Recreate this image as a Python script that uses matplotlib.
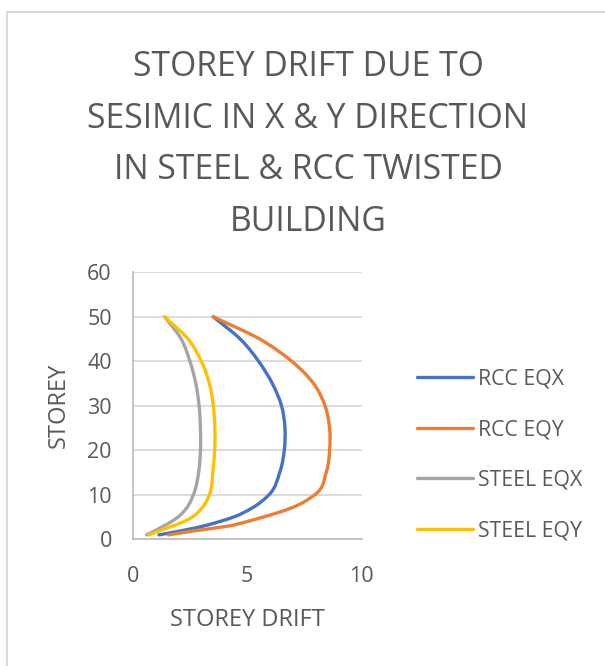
import numpy as np
import matplotlib.pyplot as plt
from matplotlib.path import Path
from matplotlib.patches import PathPatch, Rectangle
from matplotlib.lines import Line2D

plt.rcParams['font.family'] = ['Open Sans', 'DejaVu Sans']

# storey levels and drift readings for each case
storey = [1, 2, 3, 4, 5, 7, 10, 15, 20, 25, 30, 35, 40, 45, 50]
rcc_eqx = [1.15, 2.20, 3.10, 3.80, 4.40, 5.20, 5.95, 6.42, 6.62, 6.65, 6.50, 6.10, 5.50, 4.70, 3.52]
rcc_eqy = [1.56, 2.80, 4.20, 5.00, 5.70, 6.90, 7.95, 8.45, 8.60, 8.60, 8.40, 7.90, 6.95, 5.55, 3.52]
steel_eqx = [0.61, 1.00, 1.35, 1.70, 1.98, 2.35, 2.65, 2.88, 2.96, 2.96, 2.90, 2.76, 2.50, 2.12, 1.40]
steel_eqy = [0.72, 1.20, 1.75, 2.25, 2.60, 3.02, 3.35, 3.50, 3.58, 3.59, 3.52, 3.35, 3.00, 2.42, 1.40]

labels = ['RCC EQX', 'RCC EQY', 'STEEL EQX', 'STEEL EQY']
colors = ['#4472C4', '#ED7D31', '#A5A5A5', '#FFC000']
series = [rcc_eqx, rcc_eqy, steel_eqx, steel_eqy]

text_color = '#595959'


def smooth_path(xs, ys):
    # smoothed line through every reading: cubic bezier pieces, storey as parameter
    t = np.asarray(ys, float)
    pts = np.column_stack([xs, ys]).astype(float)
    n = len(pts)
    h = np.diff(t)
    slope = np.diff(pts, axis=0) / h[:, None]
    d = np.empty_like(pts)
    d[0] = slope[0]
    d[-1] = slope[-1]
    for i in range(1, n - 1):
        d[i] = (slope[i] * h[i - 1] + slope[i - 1] * h[i]) / (h[i - 1] + h[i])
    verts = [pts[0]]
    codes = [Path.MOVETO]
    for i in range(n - 1):
        verts += [pts[i] + d[i] * h[i] / 3, pts[i + 1] - d[i + 1] * h[i] / 3, pts[i + 1]]
        codes += [Path.CURVE4] * 3
    return Path(verts, codes)


fig = plt.figure(figsize=(6.05, 6.66), dpi=100)
ax = fig.add_axes([0.2193, 0.1902, 0.3785, 0.4009])

handles = []
for vals, col, lab in zip(series, colors, labels):
    patch = PathPatch(smooth_path(vals, storey), facecolor='none', edgecolor=col,
                      lw=2.4, capstyle='round', joinstyle='round', zorder=3)
    ax.add_patch(patch)
    handles.append(Line2D([], [], color=col, lw=2.4, solid_capstyle='round', label=lab))

ax.set_xlim(0, 10)
ax.set_ylim(0, 60)
ax.set_xticks([0, 5, 10])
ax.set_yticks(range(0, 61, 10))
ax.grid(axis='y', color='#D9D9D9', lw=1.3)
ax.set_axisbelow(True)
for side in ['top', 'right']:
    ax.spines[side].set_visible(False)
for side in ['left', 'bottom']:
    ax.spines[side].set_color('#BFBFBF')
    ax.spines[side].set_linewidth(1.3)
ax.tick_params(length=0, labelsize=15.5, labelcolor=text_color)
ax.tick_params(axis='x', pad=19)
ax.tick_params(axis='y', pad=15)

ax.set_xlabel('STOREY DRIFT', fontsize=17, color=text_color, labelpad=15)
ax.set_ylabel('STOREY', fontsize=17, color=text_color, labelpad=12)

fig.text(0.509, 0.783, 'STOREY DRIFT DUE TO\nSESIMIC IN X & Y DIRECTION\nIN STEEL & RCC TWISTED\nBUILDING',
         ha='center', va='center', fontsize=24.3, color=text_color, linespacing=1.68)

ax.legend(handles=handles, loc='center left', bbox_to_anchor=(0.689, 0.317),
          bbox_transform=fig.transFigure, frameon=False, fontsize=15.3,
          labelcolor=text_color, handlelength=2.63, handletextpad=0.25,
          labelspacing=1.39, borderaxespad=0, borderpad=0)

# light chart-area border
fig.patches.append(Rectangle((6.5 / 605, -0.1), 1.2, 1 - 11.5 / 666 + 0.1,
                             transform=fig.transFigure, fill=False,
                             edgecolor='#D9D9D9', lw=1.5))

fig.savefig('out.png', dpi=100)
